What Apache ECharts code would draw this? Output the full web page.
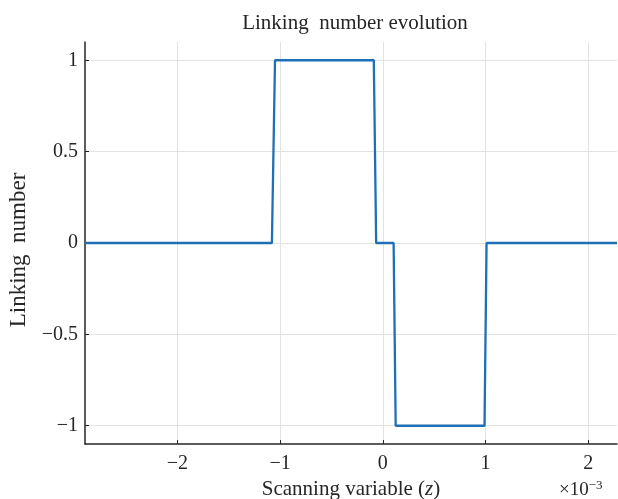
<!DOCTYPE html>
<html>
<head>
<meta charset="utf-8">
<script src="https://cdn.jsdelivr.net/npm/echarts@6/dist/echarts.min.js"></script>
<style>
  html, body { margin: 0; padding: 0; background: #fff; }
  #chart { width: 618px; height: 499px; }
</style>
</head>
<body>
<div id="chart"></div>
<script>
// Scanning variable, in units of 1e-3
const zValues = [-2.9, -1.08, -1.05, -0.088, -0.065, 0.105, 0.125, 0.99, 1.01, 2.28];
// Linking number at each scanning position
const linkingValues = [0, 0, 1, 1, 0, 0, -1, -1, 0, 0];
const xTicks = [-2, -1, 0, 1, 2];
const yTicks = [-1, -0.5, 0, 0.5, 1];

const serif = '"Liberation Serif", "Times New Roman", serif';
const ink = '#262626';
const fmt = v => String(v).replace('-', '\u2212');

const chart = echarts.init(document.getElementById('chart'));
chart.setOption({
  animation: false,
  backgroundColor: '#ffffff',
  title: [{
    text: 'Linking  number evolution',
    left: 350, top: 8, textAlign: 'center',
    textStyle: { fontFamily: serif, fontSize: 21, fontWeight: 'normal', color: ink }
  }, {
    text: '\u00d710{sup|\u22123}',
    left: 554, top: 474,
    textStyle: {
      fontFamily: serif, fontSize: 19, fontWeight: 'normal', color: ink,
      rich: { sup: { fontFamily: serif, fontSize: 13, color: ink, padding: [0, 0, 10, 0] } }
    }
  }],
  grid: { left: 85, right: 1, top: 42, bottom: 55, containLabel: false, outerBoundsMode: 'none' },
  xAxis: {
    type: 'value', min: -2.9, max: 2.28,
    name: 'Scanning variable ({it|z})',
    nameLocation: 'middle', nameGap: 33,
    nameTextStyle: {
      fontFamily: serif, fontSize: 21, color: ink,
      rich: { it: { fontFamily: serif, fontSize: 21, fontStyle: 'italic', color: ink } }
    },
    axisLine: { onZero: false, lineStyle: { color: ink, width: 1.5 } },
    axisTick: { inside: true, length: 4, customValues: xTicks, lineStyle: { color: ink } },
    axisLabel: { customValues: xTicks, formatter: fmt, fontFamily: serif, fontSize: 20, color: ink, margin: 10 },
    splitLine: { show: true, lineStyle: { color: '#e2e2e2', width: 1 } }
  },
  yAxis: {
    type: 'value', min: -1.1, max: 1.1,
    name: 'Linking  number',
    nameLocation: 'middle', nameGap: 51, nameRotate: 90,
    nameTextStyle: { fontFamily: serif, fontSize: 23, color: ink, padding: [0, 14, 0, 0] },
    axisLine: { show: true, onZero: false, lineStyle: { color: ink, width: 1.5 } },
    axisTick: { show: true, inside: true, length: 4, customValues: yTicks, lineStyle: { color: ink } },
    axisLabel: { customValues: yTicks, formatter: fmt, fontFamily: serif, fontSize: 20, color: ink, margin: 7 },
    splitLine: { show: true, lineStyle: { color: '#e2e2e2', width: 1 } }
  },
  series: [{
    type: 'line',
    data: zValues.map((z, i) => [z, linkingValues[i]]),
    symbol: 'none',
    lineStyle: { color: '#1f6fb5', width: 2.3 },
    clip: true
  }]
});
</script>
</body>
</html>
